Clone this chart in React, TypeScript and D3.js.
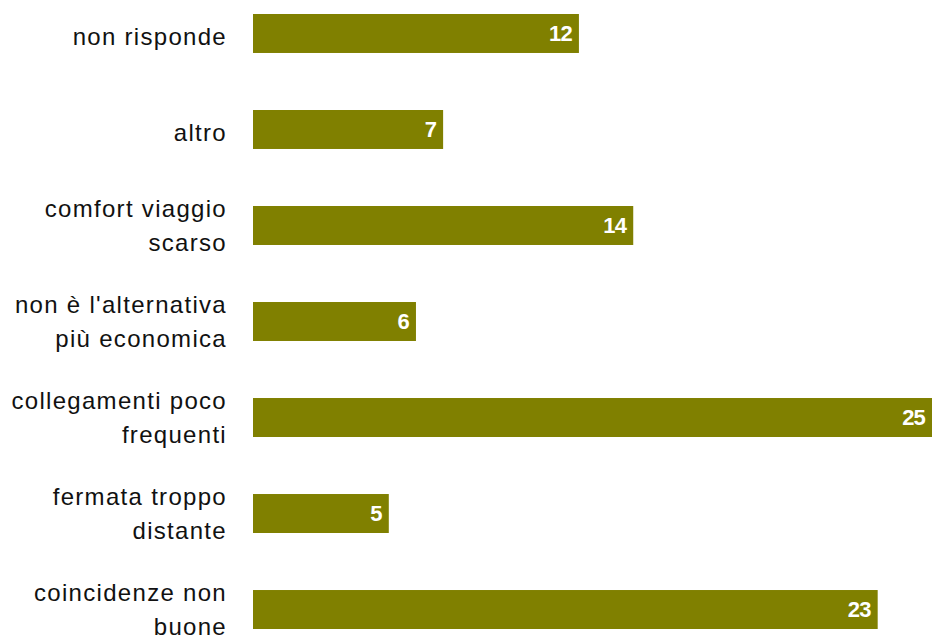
import React from "react";
import * as d3 from "d3";

const categories: string[][] = [
  ["non risponde"],
  ["altro"],
  ["comfort viaggio", "scarso"],
  ["non è l'alternativa", "più economica"],
  ["collegamenti poco", "frequenti"],
  ["fermata troppo", "distante"],
  ["coincidenze non", "buone"],
];
const values: number[] = [12, 7, 14, 6, 25, 5, 23];

const W = 933;
const H = 637;

export default function App() {
  const keys = categories.map((c) => c.join(" "));
  const y = d3.scaleBand<string>().domain(keys).range([14, 629]).paddingInner(0.594).paddingOuter(0);
  const x = d3.scaleLinear().domain([0, 25]).range([253, 932]);
  const bw = y.bandwidth();
  const lineH = 34;
  return (
    <svg width={W} height={H} style={{ position: "absolute", left: 0, top: 0, background: "#fff" }}>
      {keys.map((k, i) => {
        const y0 = y(k)!;
        const cy = y0 + bw / 2;
        const lines = categories[i];
        const startY = lines.length === 1 ? cy + 11.5 : cy + 8.5 - ((lines.length - 1) * lineH) / 2;
        return (
          <g key={k}>
            <rect x={x(0)} y={y0} width={x(values[i]) - x(0)} height={bw} fill="#808000" />
            <text
              x={x(values[i]) - 7}
              y={cy + 7.5}
              textAnchor="end"
              fill="#fff"
              fontFamily="Liberation Sans, Arial, sans-serif"
              fontWeight="bold"
              fontSize={22}
              letterSpacing={-0.8}
            >
              {values[i]}
            </text>
            {lines.map((ln, j) => (
              <text
                key={j}
                x={227}
                y={startY + j * lineH}
                textAnchor="end"
                fill="#111"
                fontFamily="Liberation Sans, Arial, sans-serif"
                fontSize={24}
                letterSpacing={1.3}
              >
                {ln}
              </text>
            ))}
          </g>
        );
      })}
    </svg>
  );
}
